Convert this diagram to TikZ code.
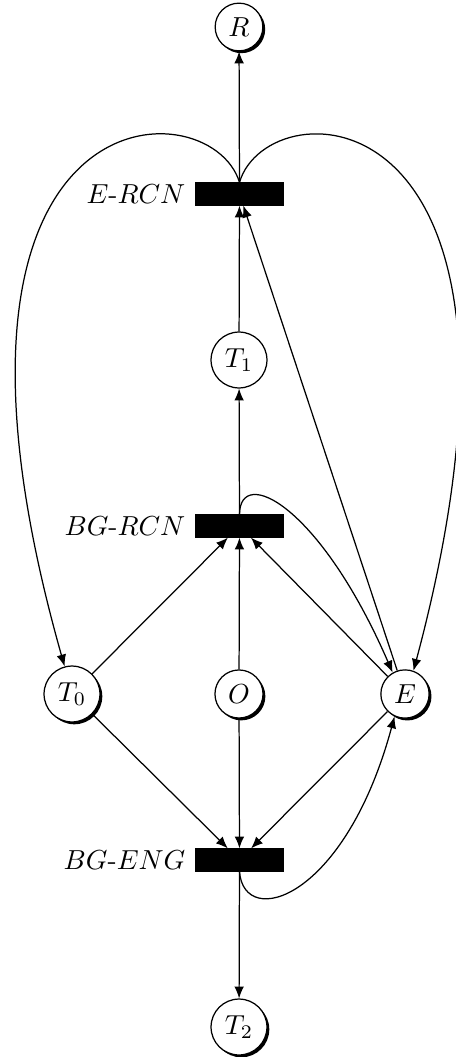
\documentclass[tikz,border=0pt]{standalone}
\usetikzlibrary{shadows,arrows.meta}
\begin{document}
\begin{tikzpicture}[x=0.3636pt,y=-0.3636pt,
  every path/.style={line width=0.45pt},
  place/.style={circle,draw,fill=white,inner sep=2.5pt},
  splace/.style={place,drop shadow={opacity=1,fill=black,shadow xshift=0.85pt,shadow yshift=-0.85pt}},
  trans/.style={rectangle,draw,fill=black,minimum width=31.8pt,minimum height=8pt,inner sep=0pt},
  arc/.style={-{Latex[length=4.3pt,width=3.5pt]}}]
\useasboundingbox (0,0) rectangle (456,1057);
\node[splace] (R) at (239,27) {$R$};
\node[trans,label=left:{$E$-$RCN$}] (ercn) at (239.5,194) {};
\node[place] (T1) at (239,360) {$T_1$};
\node[trans,label=left:{$BG$-$RCN$}] (bgrcn) at (239.5,526) {};
\node[splace] (T0) at (72,694) {$T_0$};
\node[splace] (O) at (239,694) {$O$};
\node[splace] (E) at (405,694) {$E$};
\node[trans,label=left:{$BG$-$ENG$}] (bgeng) at (239.5,860) {};
\node[splace] (T2) at (239,1027) {$T_2$};

\draw[arc] (ercn) -- (R);
\draw[arc] (T1) -- (ercn);
\draw[arc] (bgrcn) -- (T1);
\draw[arc] (T0) -- (bgrcn);
\draw[arc] (O) -- (bgrcn);
\draw[arc] (E) -- (bgrcn);
\draw[arc] (E) -- (ercn);
\draw[arc] (T0) -- (bgeng);
\draw[arc] (O) -- (bgeng);
\draw[arc] (E) -- (bgeng);
\draw[arc] (bgeng) -- (T2);
\draw[arc] (ercn.north) .. controls (210,85) and (-100,85) .. (T0.105);
\draw[arc] (ercn.north) .. controls (268,85) and (570,85) .. (E.70);
\draw[arc] (bgrcn.north) .. controls (240,465) and (320,505) .. (E.120);
\draw[arc] (bgeng.south) .. controls (244,930) and (345,900) .. (E.-115);
\end{tikzpicture}
\end{document}
